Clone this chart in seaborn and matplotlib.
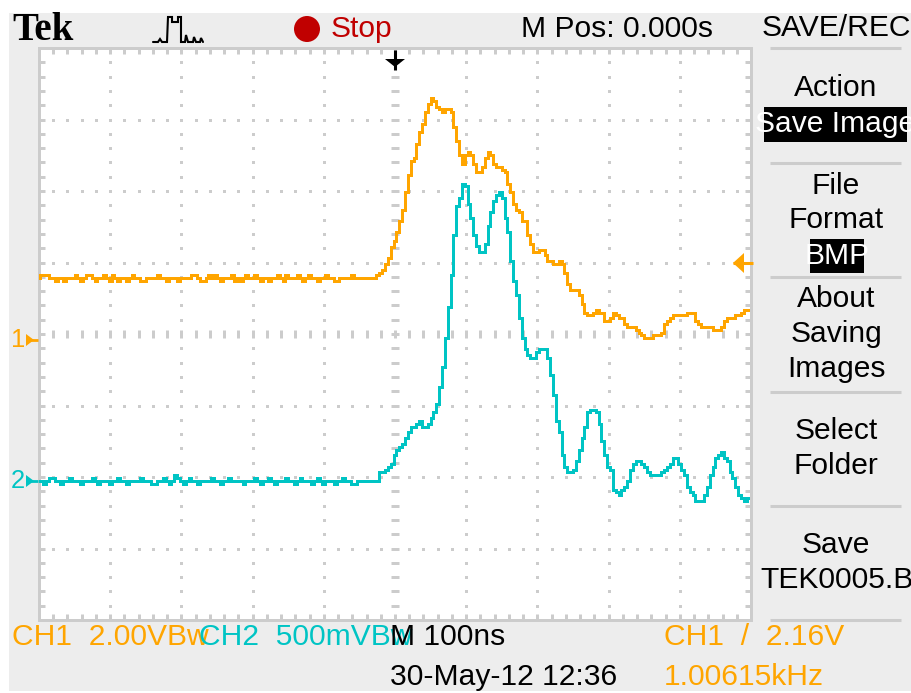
import numpy as np
import pandas as pd
import matplotlib
matplotlib.use("Agg")
import matplotlib.pyplot as plt
from matplotlib import font_manager as fm
from matplotlib.patches import Circle, Polygon, Rectangle
import seaborn as sns

# Trace samples in scope counts (25 counts per division), relative to each channel's ground
ch1_counts = [
    22,23,23,23,22,22,21,22,22,21,22,22,22,23,22,21,22,23,23,22,
    21,22,22,23,22,21,23,22,21,22,22,21,22,23,22,22,21,21,22,22,
    22,22,23,22,22,21,22,22,22,21,22,22,22,22,23,23,22,21,21,22,
    23,22,23,22,21,22,22,22,23,21,22,21,22,23,22,22,23,22,21,22,
    22,21,22,22,23,22,21,23,22,22,22,23,22,21,22,23,22,22,21,22,
    22,23,22,22,21,21,22,22,22,22,23,22,22,
    22,22,22,22,22,22,23,24,25,27,29,33,35,38,42,46,52,58,63,64,
    69,73,76,80,83,85,84,82,81,80,81,81,80,75,70,65,62,65,66,65,
    62,59,59,61,64,66,65,62,61,61,60,59,55,52,48,46,45,42,42,37,
    34,31,31,32,32,30,28,28,27,27,28,27,24,20,18,18,18,16,13,10,
    9,9,10,11,10,10,7,7,8,10,9,8,8,6,5,5,5,4,3,2,
    1,1,1,2,2,2,3,6,7,8,9,9,9,9,9,10,10,10,7,6,
    5,5,5,5,4,4,4,5,7,8,8,8,9,9,10,11,11,
]
ch2_counts = [
    0,0,-1,0,1,1,0,0,-1,0,0,1,0,0,0,-1,0,0,0,1,
    0,-1,0,0,0,-1,0,0,1,0,0,-1,0,0,0,0,1,0,0,0,
    -1,-1,0,0,1,0,-1,0,2,1,0,-1,0,1,0,0,-1,0,0,0,
    0,1,0,0,-1,0,0,1,0,0,0,0,-1,0,0,0,1,0,-1,0,
    0,1,0,-1,0,0,0,1,0,0,-1,0,1,0,0,0,-1,0,1,0,
    -1,0,0,0,-1,0,0,1,0,0,-1,-1,0,
    0,0,0,0,0,0,0,3,3,4,5,6,9,11,12,13,15,17,19,19,
    20,21,19,19,20,22,24,27,33,40,50,61,72,86,96,99,104,103,97,92,
    86,82,80,80,83,89,94,98,100,101,99,92,87,77,70,65,57,50,46,44,
    43,43,45,46,46,46,43,37,30,21,17,9,5,3,3,4,7,11,15,19,
    24,25,25,24,20,14,9,5,4,-3,-4,-5,-3,-2,0,4,6,7,7,6,
    5,3,2,2,2,2,3,4,5,6,8,8,6,4,2,-2,-4,-5,-7,-7,
    -7,-5,-2,2,5,8,9,10,8,7,3,1,-2,-5,-6,-7,-6,
]
ch1_ground = 97.5
ch2_ground = 48.6
ns_per_sample = 4

menu_labels = [("SAVE/REC", 28), ("Action", 88), ("File", 186), ("Format", 220),
               ("About", 299), ("Saving", 334), ("Images", 369), ("Select", 431),
               ("Folder", 466), ("Save", 545)]
status_texts = ["CH1  2.00VBw", "CH2  500mVBw", "M 100ns", "CH1  /  2.16V",
                "30-May-12 12:36", "1.00615kHz", "M Pos: 0.000s", "Stop"]

ORANGE, TEAL, GRID, PANEL, RED = "#FFA500", "#00C4C4", "#CCCCCC", "#EDEDED", "#C00000"

sns.set_theme(style="white")
names = {f.name for f in fm.fontManager.ttflist}
narrow = "Liberation Sans Narrow" if "Liberation Sans Narrow" in names else "Liberation Sans"
plt.rcParams["font.family"] = [narrow, "DejaVu Sans"]

W, H = 911, 693
fig = plt.figure(figsize=(W / 100, H / 100), dpi=100, facecolor="white")

def px_axes(z):
    a = fig.add_axes([0, 0, 1, 1], zorder=z)
    a.set_xlim(0, W); a.set_ylim(H, 0); a.axis("off")
    return a

panel = px_axes(0)
panel.add_patch(Rectangle((9, 13), W - 9, 678, fc=PANEL, ec="none"))

L, R, T, B = 39, 751, 48, 620
scope = fig.add_axes([L / W, 1 - B / H, (R - L) / W, (B - T) / H], zorder=1, facecolor="white")

n = len(ch1_counts)
df = pd.DataFrame({
    "t": (np.arange(n) - 125) * ns_per_sample,
    "ch1": np.array(ch1_counts) + ch1_ground,
    "ch2": np.array(ch2_counts) + ch2_ground,
})

scope.set_xlim(-500, 500)
scope.set_ylim(0, 200)

# graticule
xdots = np.arange(-500, 501, 20)
ydots = np.arange(0, 201, 5)
for gx in np.arange(-400, 401, 100):
    if gx == 0:
        scope.plot([gx] * len(ydots), ydots, ls="", marker="_", ms=8.5 * .72, mew=3 * .72, color=GRID, zorder=1)
    else:
        scope.plot([gx] * len(ydots), ydots, ls="", marker="s", ms=3 * .72, mew=0, color=GRID, zorder=1)
for gy in np.arange(25, 200, 25):
    if gy == 100:
        scope.plot(xdots, [gy] * len(xdots), ls="", marker="|", ms=8.5 * .72, mew=3 * .72, color=GRID, zorder=1)
    else:
        scope.plot(xdots, [gy] * len(xdots), ls="", marker="s", ms=3 * .72, mew=0, color=GRID, zorder=1)

scope.set_xticks(np.arange(-500, 501, 20))
scope.set_yticks(np.arange(0, 201, 5))
scope.set_xticklabels([]); scope.set_yticklabels([])
scope.tick_params(axis="both", which="major", direction="in", length=6 * .72, width=3 * .72,
                  color=GRID, top=True, right=True, bottom=True, left=True)
for s in scope.spines.values():
    s.set_color(GRID); s.set_linewidth(3 * .72)

sns.lineplot(data=df, x="t", y="ch1", ax=scope, color=ORANGE, estimator=None, errorbar=None,
             drawstyle="steps-mid", linewidth=2.1, antialiased=False, zorder=3)
sns.lineplot(data=df, x="t", y="ch2", ax=scope, color=TEAL, estimator=None, errorbar=None,
             drawstyle="steps-mid", linewidth=2.1, antialiased=False, zorder=3)
scope.set_xlabel(""); scope.set_ylabel("")

ov = px_axes(2)
FS = 21.6

def txt(x, y, s, c="black", ha="left", **kw):
    kw.setdefault("fontsize", FS)
    return ov.text(x, y, s, color=c, ha=ha, va="center", **kw)

# header
ov.text(12, 30, "Tek", family="Liberation Serif", weight="bold", fontsize=28, color="black", va="center")
ix = [153,158,160,162,165,167,168,172,172,178,178,181,181,185,186,188,190,193,194,196,198,200,201,203]
iy = [42,42,39,42,42,42,17,17,22,22,17,17,42,42,35,42,42,42,37,42,42,42,38,42]
ov.plot(ix, iy, color="black", lw=1.5, solid_joinstyle="miter")
ov.add_patch(Circle((307, 29), 13, fc=RED, ec="none"))
txt(331, 29, status_texts[7], RED)
txt(521, 29, status_texts[6])

# menu
for s, y in menu_labels:
    txt(836, y, s, ha="center")
for y in [48, 163, 277, 392, 506, 620]:
    ov.plot([770, 901], [y, y], color=GRID, lw=2.2, solid_capstyle="butt")
ov.add_patch(Rectangle((764, 107), 143, 35, fc="black", ec="none"))
txt(835, 124, "Save Image", "white", ha="center")
ov.add_patch(Rectangle((810, 239), 54, 34, fc="black", ec="none"))
txt(837, 256, "BMP", "white", ha="center")
ov.text(760, 580, "TEK0005.BMP", color="black", va="center", fontsize=FS, clip_on=True)

# status rows
txt(12, 637, status_texts[0], ORANGE)
txt(199, 637, status_texts[1], TEAL)
txt(390, 637, status_texts[2])
txt(664, 637, status_texts[3], ORANGE)
txt(390, 677, status_texts[4])
txt(664, 677, status_texts[5], ORANGE)

# channel ground markers
for label, y, c in [("1", 340, ORANGE), ("2", 481, TEAL)]:
    txt(11, y, label, c, fontsize=FS * .85)
    ov.add_patch(Polygon([(26, y - 6), (34, y), (26, y + 6)], fc=c, ec="none"))
    ov.plot([26, 38], [y, y], color=c, lw=2, solid_capstyle="butt")

# trigger markers
ov.add_patch(Polygon([(385, 59), (405, 59), (395, 67)], fc="black", ec="none"))
ov.plot([395, 395], [50, 70], color="black", lw=2.2, solid_capstyle="butt")
ov.add_patch(Polygon([(733, 263), (744, 253), (744, 273)], fc=ORANGE, ec="none"))
ov.plot([733, 753], [263, 263], color=ORANGE, lw=2.2, solid_capstyle="butt")

fig.savefig("out.png", dpi=100)
